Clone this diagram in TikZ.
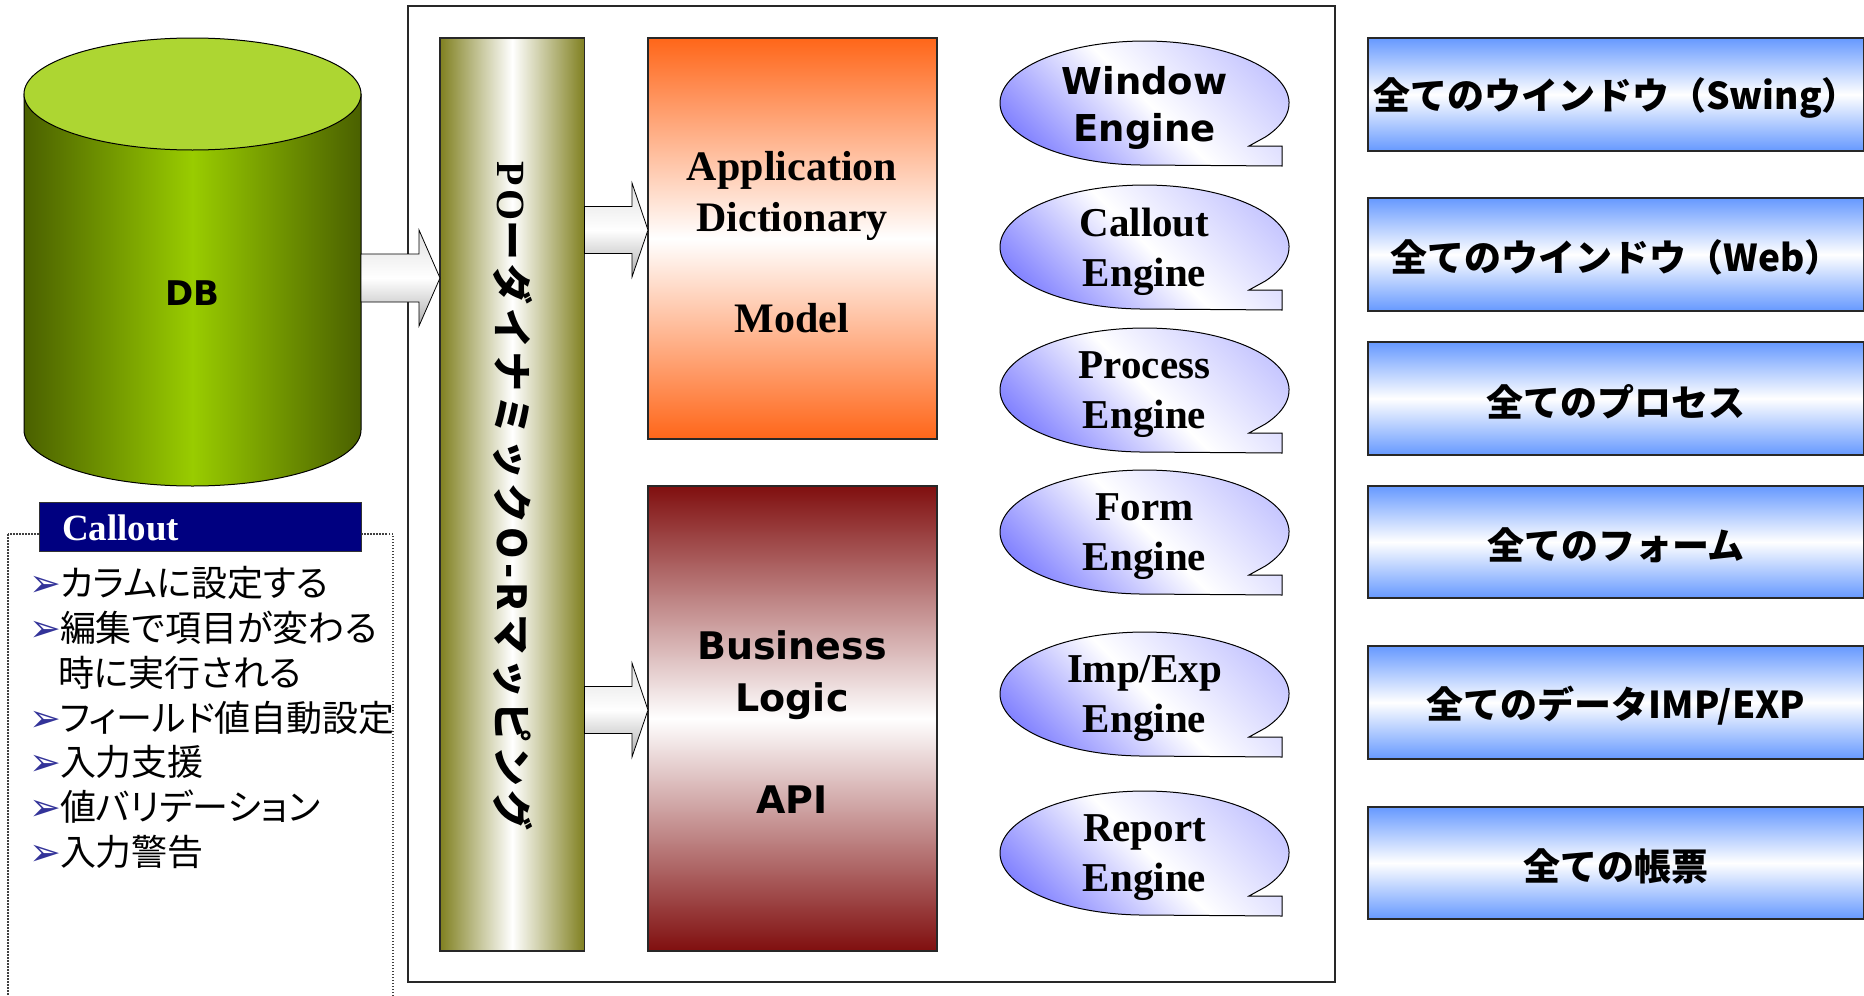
\documentclass[tikz,border=0pt]{standalone}
\usepackage{fontspec}
\usetikzlibrary{calc}
\newfontfamily\jp{Noto Sans CJK JP}
\newfontfamily\jpp{Noto Sans CJK JP}[RawFeature=+palt]
\newfontfamily\jpls{Noto Sans CJK JP}[LetterSpace=10]
\newfontfamily\tms{Liberation Serif}
\newfontfamily\tmsls{Liberation Serif}[LetterSpace=10]
\newfontfamily\djv{DejaVu Sans}
\newcommand\fsz[2]{\fontsize{#1}{#2}\selectfont}
\definecolor{dbtop}{RGB}{173,214,50}
\definecolor{dbdark}{RGB}{74,96,0}
\definecolor{dbmid}{RGB}{153,204,0}
\definecolor{olivebar}{RGB}{128,128,32}
\definecolor{appor}{RGB}{255,102,25}
\definecolor{bizred}{RGB}{128,15,15}
\definecolor{engblue}{RGB}{128,128,255}
\definecolor{englight}{RGB}{195,195,255}
\definecolor{boxblue}{RGB}{102,153,255}
\definecolor{navybox}{RGB}{0,0,128}
\definecolor{bulcol}{RGB}{51,51,153}
\definecolor{edgecol}{RGB}{40,40,40}
\newcommand\bul{\makebox[31pt][l]{\djv\fsz{38}{38}\color{bulcol}➢}}
\newcommand\blockarr[5]{%
  \path[arrowfill] let \p1=(#1), \p2=(#2) in
    (\x1,\y1+#4) -- (\x2-#3,\y1+#4) -- (\x2-#3,\y1+#5) -- (\x2,\y1)
    -- (\x2-#3,\y1-#5) -- (\x2-#3,\y1-#4) -- (\x1,\y1-#4) -- cycle;}
\newcommand\engine[4]{%
  \coordinate (#1c) at (1144.5,#2);
  \draw[engshape] ($(#1c)+(121.2,33.8)$)
    arc[start angle=-33, end angle=270, x radius=144.5pt, y radius=62pt]
    -- ($(#1c)+(137.5,63)$) -- ($(#1c)+(137.5,43)$) -- ($(#1c)+(104.5,43)$) -- cycle;
  \node[engtxt, font=#3] (#1) at ($(#1c)+(0,5)$) {#4};}
\newcommand\allbox[4]{%
  \node[rectbox, top color=boxblue, bottom color=boxblue, middle color=white,
        minimum width=496pt, minimum height=#3pt, anchor=north west] (#1) at (1368,#2) {};
  \node[font=\jp\bfseries\fsz{37}{44}] (#1t) at ($(#1.center)+(0,3)$) {#4};}
\tikzset{
  every node/.style={inner sep=0pt, outer sep=0pt},
  rectbox/.style={draw=edgecol, line width=1.2pt},
  arrowfill/.style={draw=black, line width=0.8pt, top color=black!12, bottom color=black!32, middle color=white},
  engshape/.style={draw=black, line width=1pt, bottom color=engblue, top color=englight, middle color=white, shading angle=-45},
  engtxt/.style={align=center},
  frameline/.style={draw=edgecol, line width=1.6pt},
  dotbox/.style={draw=black!75, line width=1.5pt, dash pattern=on 1.5pt off 1.5pt},
  listline/.style={anchor=base west, font=\jpp\fsz{36}{40}},
}
\begin{document}
\begin{tikzpicture}[x=1pt, y=-1pt]
\useasboundingbox (0,0) rectangle (1864,996);
\clip (0,0) rectangle (1864,996);
\fill[white] (0,0) rectangle (1864,996);

% DB cylinder
\node[minimum width=337pt, minimum height=336pt] (db) at (192.5,262) {};
\path[left color=dbdark, right color=dbdark, middle color=dbmid, draw=black, line width=1pt]
  (db.north west) -- (db.south west)
  arc[start angle=180, end angle=360, x radius=168.5pt, y radius=56pt]
  -- (db.north east) -- cycle;
\draw[fill=dbtop, line width=1pt] (db.north) ellipse[x radius=168.5pt, y radius=56pt];
\node[font=\djv\bfseries\fsz{34}{40}] (dbl) at (192.5,293) {DB};

% outer frame
\draw[frameline] (408,6) rectangle (1335,982);

% O-R mapping bar
\node[rectbox, left color=olivebar, right color=olivebar, middle color=white,
      minimum width=144.5pt, minimum height=913pt] (bar) at (512.25,494.5) {};
\node[rotate=-90] (potxt) at (513,496)
  {{\tmsls\bfseries\fsz{40}{44}PO}{\jpls\bfseries\fsz{40}{44}ーダイナミックO-Rマッピング}};

% Application Dictionary / Model
\node[rectbox, top color=appor, bottom color=appor, middle color=white,
      minimum width=289pt, minimum height=401pt] (app) at (792.5,238.5) {};
\node[align=center, font=\tms\bfseries\fsz{42}{51}] (apptxt) at (792,242)
  {Application\\Dictionary\\[50pt]Model};

% Business Logic / API
\node[rectbox, top color=bizred, bottom color=bizred, middle color=white,
      minimum width=289pt, minimum height=465pt] (biz) at (792.5,718.5) {};
\node[align=center, font=\djv\bfseries\fsz{38}{52}] (biztxt) at (792,722)
  {Business\\Logic\\[50pt]API};

% block arrows
\coordinate (a1s) at (db.east |- 0,278);
\coordinate (a1e) at (bar.west |- a1s);
\blockarr{a1s}{a1e}{21pt}{24pt}{48pt}
\coordinate (a2s) at (bar.east |- 0,230);
\coordinate (a2e) at (app.west |- a2s);
\blockarr{a2s}{a2e}{16pt}{23.5pt}{47pt}
\coordinate (a3s) at (bar.east |- 0,710);
\coordinate (a3e) at (biz.west |- a3s);
\blockarr{a3s}{a3e}{16pt}{23.5pt}{47pt}

% engines
\engine{ewin}{103}{\djv\bfseries\fsz{37}{47}}{Window\\Engine}
\engine{ecal}{247}{\tms\bfseries\fsz{41}{50}}{Callout\\Engine}
\engine{epro}{390}{\tms\bfseries\fsz{41}{50}}{Process\\Engine}
\engine{efrm}{532}{\tms\bfseries\fsz{41}{50}}{Form\\Engine}
\engine{eimp}{694}{\tms\bfseries\fsz{41}{50}}{Imp/Exp\\Engine}
\engine{erep}{853}{\tms\bfseries\fsz{41}{50}}{Report\\Engine}

% right boxes
\allbox{r1}{38}{113}{全てのウインドウ（Swing）}
\allbox{r2}{198}{113}{全てのウインドウ（Web）}
\allbox{r3}{342}{113}{全てのプロセス}
\allbox{r4}{486}{112}{全てのフォーム}
\allbox{r5}{646}{113}{全てのデータIMP/EXP}
\allbox{r6}{807}{112}{全ての帳票}

% Callout panel
\draw[dotbox] (8,534) rectangle (393,1000);
\node[fill=navybox, draw=black!80, line width=1pt, minimum width=322pt, minimum height=49pt,
      anchor=north west] (cotitle) at (39,502) {};
\node[anchor=west, text=white, font=\tms\bfseries\fsz{37}{40}] (cotxt) at ($(cotitle.west)+(23,1)$) {Callout};
\node[listline] (l1) at (29,596) {\bul カラムに設定する};
\node[listline] (l2) at (29,641) {\bul 編集で項目が変わる};
\node[listline] (l3) at (29,686) {\hspace*{29pt}時に実行される};
\node[listline] (l4) at (29,731) {\bul フィールド値自動設定};
\node[listline] (l5) at (29,775) {\bul 入力支援};
\node[listline] (l6) at (29,820) {\bul 値バリデーション};
\node[listline] (l7) at (29,865) {\bul 入力警告};
\end{tikzpicture}
\end{document}
